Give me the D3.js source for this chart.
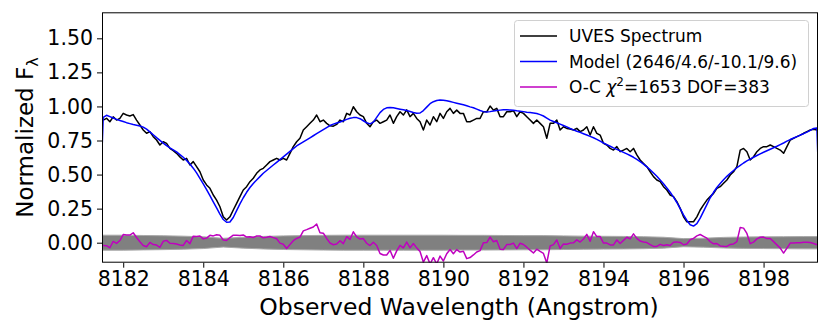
<!DOCTYPE html>
<html><head><meta charset="utf-8">
<script src="https://cdn.jsdelivr.net/npm/d3@7"></script>
<style>
html,body{margin:0;padding:0;background:#fff;}
svg{display:block;font-family:"DejaVu Sans",sans-serif;}
</style></head>
<body><svg id="c" width="830" height="332"></svg>
<script>
// wavelength sampling of the spectrum (Angstrom)
const waveStart = 8181.5;
const waveStep = 1/12;
// observed UVES spectrum (normalized flux)
const obs = [
0.90,0.913,0.888,0.924,0.90,0.913,0.949,0.937,0.93,0.94,
0.90,0.864,0.827,0.803,0.815,0.778,0.754,0.717,0.741,0.729,
0.692,0.675,0.656,0.63,0.607,0.619,0.57,0.595,0.558,0.521,
0.46,0.424,0.399,0.35,0.313,0.264,0.19,0.166,0.19,0.24,
0.289,0.338,0.387,0.411,0.448,0.473,0.509,0.534,0.546,0.57,
0.595,0.607,0.619,0.607,0.619,0.607,0.656,0.705,0.741,0.766,
0.827,0.851,0.876,0.90,0.937,0.888,0.90,0.876,0.858,0.855,
0.868,0.90,0.888,0.949,0.937,0.998,0.961,0.937,0.925,0.876,
0.851,0.888,0.90,0.876,0.888,0.90,0.937,0.876,0.925,0.961,
0.937,0.975,0.925,0.949,0.912,0.888,0.827,0.90,0.864,0.925,
0.888,0.949,0.912,0.961,0.986,0.949,0.973,0.949,0.949,0.888,
0.888,0.90,0.912,0.912,0.961,0.961,1.003,0.973,0.986,0.925,
0.925,0.961,0.961,0.969,0.925,0.961,0.949,0.925,0.90,0.876,
0.90,0.876,0.851,0.766,0.876,0.876,0.90,0.827,0.851,0.839,
0.835,0.827,0.839,0.815,0.827,0.851,0.79,0.851,0.803,0.79,
0.729,0.717,0.692,0.68,0.705,0.668,0.68,0.692,0.668,0.692,
0.644,0.607,0.582,0.558,0.521,0.485,0.46,0.448,0.411,0.387,
0.35,0.338,0.301,0.252,0.19,0.154,0.154,0.154,0.19,0.24,
0.277,0.313,0.338,0.362,0.399,0.411,0.436,0.46,0.497,0.521,
0.558,0.68,0.692,0.668,0.607,0.631,0.668,0.692,0.705,0.705,
0.717,0.705,0.692,0.68,0.656,0.705,0.754,0.766,0.778,0.79,
0.803,0.815,0.827,0.832,0.827
];
// best-fit model spectrum on the same sampling
const model = [
0.92,0.935,0.925,0.915,0.905,0.897,0.889,0.881,0.874,0.867,
0.862,0.857,0.848,0.833,0.813,0.792,0.771,0.751,0.731,0.712,
0.696,0.681,0.666,0.647,0.627,0.603,0.577,0.547,0.512,0.472,
0.432,0.39,0.345,0.30,0.255,0.21,0.17,0.15,0.152,0.185,
0.235,0.285,0.33,0.37,0.405,0.435,0.46,0.485,0.51,0.53,
0.55,0.57,0.59,0.61,0.63,0.65,0.67,0.69,0.71,0.725,
0.74,0.755,0.77,0.785,0.80,0.815,0.83,0.845,0.86,0.87,
0.878,0.886,0.895,0.905,0.913,0.918,0.918,0.91,0.895,0.88,
0.872,0.885,0.92,0.955,0.978,0.99,0.993,0.99,0.985,0.98,
0.975,0.97,0.963,0.955,0.95,0.952,0.97,0.995,1.02,1.035,
1.044,1.047,1.046,1.042,1.036,1.03,1.024,1.018,1.012,1.005,
0.997,0.99,0.98,0.97,0.962,0.96,0.962,0.966,0.97,0.973,
0.975,0.975,0.974,0.972,0.968,0.965,0.962,0.958,0.955,0.952,
0.948,0.94,0.93,0.915,0.90,0.89,0.88,0.87,0.86,0.85,
0.838,0.828,0.818,0.81,0.80,0.79,0.78,0.77,0.758,0.745,
0.732,0.72,0.708,0.696,0.685,0.674,0.663,0.652,0.64,0.627,
0.612,0.595,0.577,0.557,0.535,0.512,0.487,0.46,0.432,0.402,
0.37,0.335,0.295,0.25,0.205,0.163,0.132,0.122,0.14,0.18,
0.23,0.28,0.33,0.37,0.405,0.435,0.462,0.487,0.51,0.53,
0.55,0.568,0.585,0.60,0.614,0.627,0.64,0.652,0.664,0.675,
0.686,0.697,0.708,0.72,0.732,0.745,0.757,0.768,0.779,0.79,
0.80,0.812,0.825,0.838,0.842
];
// model edge samples (convolution edge effects at the ends of the range)
const modelEdgeLeft = [8181.47, 0.67];
const modelEdgeRight = [8199.36, 0.60];
// flux uncertainty (half-width of grey band)
const sigmaWave = [8181.47,8182,8182.5,8183,8183.5,8184,8184.5,8185,8185.5,8186,8186.5,8187,8187.5,8188,8188.5,8189,8189.5,8190,8190.5,8191,8191.5,8192,8192.5,8193,8193.5,8194,8194.5,8195,8195.5,8196,8196.5,8197,8197.5,8198,8198.5,8199,8199.36];
const sigma = [0.055,0.055,0.053,0.051,0.048,0.043,0.032,0.04,0.046,0.05,0.052,0.054,0.055,0.055,0.055,0.055,0.055,0.055,0.054,0.054,0.053,0.052,0.052,0.05,0.048,0.047,0.046,0.044,0.04,0.03,0.033,0.039,0.042,0.043,0.044,0.045,0.045];
const xTicks = [8182,8184,8186,8188,8190,8192,8194,8196,8198];
const yTicks = [0.00,0.25,0.50,0.75,1.00,1.25,1.50];
const legendLabels = ["UVES Spectrum","Model (2646/4.6/-10.1/9.6)","O-C"];
const chi2 = 1653, dof = 383;

const L = 102, R = 818, T = 12.3, B = 262.7;
const svg = d3.select("#c");
const x = d3.scaleLinear().domain([8181.47, 8199.36]).range([L, R]);
const y = d3.scaleLinear().domain([-0.1468, 1.691]).range([B, T]);

const wave = obs.map((_, i) => waveStart + i * waveStep);
const resid = obs.map((v, i) => v - model[i]);
const obsPts = obs.map((v, i) => [wave[i], v]);
const modelPts = [modelEdgeLeft, ...model.map((v, i) => [wave[i], v]), modelEdgeRight];
const residPts = resid.map((v, i) => [wave[i], v]);

svg.append("clipPath").attr("id","pc").append("rect")
  .attr("x", L).attr("y", T).attr("width", R - L).attr("height", B - T);
const g = svg.append("g").attr("clip-path","url(#pc)");

// grey error band
g.append("path")
  .datum(sigma.map((s, i) => [sigmaWave[i], s]))
  .attr("fill", "#808080")
  .attr("stroke", "#a8a8a8").attr("stroke-width", 1)
  .attr("d", d3.area().x(d => x(d[0])).y0(d => y(-d[1])).y1(d => y(d[1])));

const line = d3.line().x(d => x(d[0])).y(d => y(d[1]));
g.append("path").datum(obsPts).attr("fill","none").attr("stroke","#000").attr("stroke-width",1.5).attr("stroke-linejoin","round").attr("d", line);
g.append("path").datum(modelPts).attr("fill","none").attr("stroke","#0000ff").attr("stroke-width",1.5).attr("stroke-linejoin","round").attr("d", line);
g.append("path").datum(residPts).attr("fill","none").attr("stroke","#bf00bf").attr("stroke-width",1.5).attr("stroke-linejoin","round").attr("d", line);

// axes
const xAxis = d3.axisBottom(x).tickValues(xTicks).tickSize(5).tickPadding(4).tickFormat(d3.format("d"));
const yAxis = d3.axisLeft(y).tickValues(yTicks).tickSize(5).tickPadding(4).tickFormat(d3.format(".2f"));
const gx = svg.append("g").attr("transform", `translate(0,${B})`).call(xAxis);
const gy = svg.append("g").attr("transform", `translate(${L},0)`).call(yAxis);
[gx, gy].forEach(a => {
  a.select(".domain").remove();
  a.selectAll(".tick line").attr("stroke", "#000").attr("stroke-width", 1);
  a.selectAll(".tick text").attr("fill", "#000").style("font-size", "20.5px").style("font-family", "DejaVu Sans");
});
svg.append("rect").attr("x", L + 0.5).attr("y", T + 0.5).attr("width", R - L - 1).attr("height", B - T - 1)
  .attr("fill", "none").attr("stroke", "#000").attr("stroke-width", 1);

// axis labels
svg.append("text").attr("x", (L + R) / 2 - 1).attr("y", 315).attr("text-anchor", "middle")
  .style("font-size", "23.5px").text("Observed Wavelength (Angstrom)");
const yl = svg.append("text").attr("transform", `translate(33,${(T + B) / 2}) rotate(-90)`)
  .attr("text-anchor", "middle").style("font-size", "23px");
yl.append("tspan").text("Normalized F");
yl.append("tspan").attr("dy", 5).style("font-size", "16px").text("λ");

// legend
const lg = svg.append("g");
lg.append("rect").attr("x", 514.5).attr("y", 20.5).attr("width", 294).attr("height", 86).attr("rx", 3)
  .attr("fill", "#fff").attr("fill-opacity", 0.8).attr("stroke", "#d0d0d0").attr("stroke-width", 1);
const cols = ["#000", "#0000ff", "#bf00bf"];
const rowsY = [36, 61.5, 87];
legendLabels.forEach((lab, i) => {
  lg.append("line").attr("x1", 520).attr("x2", 557).attr("y1", rowsY[i]).attr("y2", rowsY[i])
    .attr("stroke", cols[i]).attr("stroke-width", 1.5);
  const t = lg.append("text").attr("x", 569).attr("y", rowsY[i] + 6).style("font-size", "17px");
  t.append("tspan").text(lab);
  if (i === 2) {
    t.append("tspan").text(" ");
    t.append("tspan").style("font-style", "italic").text("χ");
    t.append("tspan").attr("dy", -7).style("font-size", "12px").text("2");
    t.append("tspan").attr("dy", 7).text(`=${chi2} DOF=${dof}`);
  }
});
</script></body></html>
